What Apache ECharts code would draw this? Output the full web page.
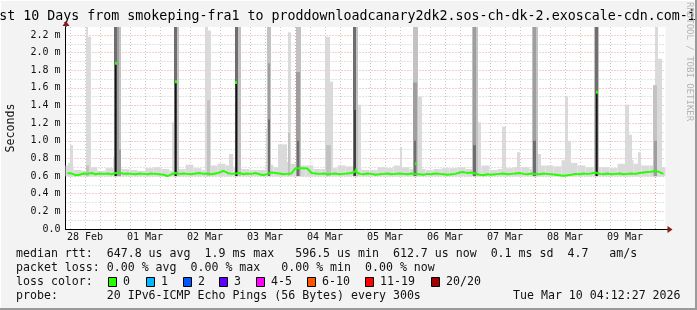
<!DOCTYPE html>
<html><head><meta charset="utf-8">
<script src="https://cdn.jsdelivr.net/npm/echarts@6/dist/echarts.min.js"></script>
<style>html,body{margin:0;padding:0;background:#f3f3f3;}#c{width:697px;height:310px;}</style>
</head><body><div id="c"></div>
<script>
// ---------------- data ----------------
const titleText = 'Last 10 Days from smokeping-fra1 to proddownloadcanary2dk2.sos-ch-dk-2.exoscale-cdn.com-ipv6';
const dayLabels = ['28 Feb','01 Mar','02 Mar','03 Mar','04 Mar','05 Mar','06 Mar','07 Mar','08 Mar','09 Mar'];
const dayLabelHours = [12,36,60,84,108,132,156,180,204,228];           // hours since 28 Feb 00:00
const midnightHours = [24,48,72,96,120,144,168,192,216,240];
const sixHourHours = [6,12,18,30,36,42,54,60,66,78,84,90,102,108,114,126,132,138,150,156,162,174,180,186,198,204,210,222,228,234];
const yTicks = [0,0.2,0.4,0.6,0.8,1.0,1.2,1.4,1.6,1.8,2.0,2.2];
const yTickLabels = ['0.0','0.2 m','0.4 m','0.6 m','0.8 m','1.0 m','1.2 m','1.4 m','1.6 m','1.8 m','2.0 m','2.2 m'];
const yMinorTicks = [0.1,0.3,0.5,0.7,0.9,1.1,1.3,1.5,1.7,1.9,2.1];
const startHour = 4.2, endHour = 244.2;   // 28 Feb 04:12 .. 10 Mar 04:12
const yMax = 2.29;                          // ms
const minRtt = 0.5965;                      // ms (legend min)

// median rtt (ms), one value per 1.6 h
const medianStepHours = 1.6;
const medianRtt = [
 0.635,0.63,0.61,0.615,0.63,0.625,0.635,0.62,0.63,0.625,
 0.63,0.62,0.635,0.64,0.625,0.63,0.625,0.62,0.63,0.625,
 0.62,0.63,0.625,0.62,0.615,0.60,0.62,0.635,0.625,0.63,
 0.625,0.62,0.63,0.635,0.625,0.63,0.62,0.63,0.64,0.66,
 0.635,0.625,0.63,0.635,0.62,0.63,0.625,0.635,0.62,0.61,
 0.625,0.64,0.635,0.63,0.62,0.625,0.63,0.69,0.69,0.69,
 0.685,0.635,0.63,0.625,0.63,0.62,0.625,0.63,0.62,0.625,
 0.63,0.635,0.655,0.625,0.62,0.63,0.625,0.615,0.62,0.625,
 0.63,0.62,0.625,0.63,0.625,0.62,0.63,0.625,0.62,0.615,
 0.625,0.62,0.63,0.625,0.62,0.615,0.62,0.625,0.64,0.645,
 0.635,0.64,0.63,0.615,0.61,0.62,0.615,0.62,0.625,0.63,
 0.62,0.625,0.63,0.635,0.625,0.62,0.63,0.625,0.62,0.63,
 0.625,0.62,0.615,0.61,0.605,0.61,0.615,0.625,0.62,0.63,
 0.625,0.63,0.64,0.625,0.62,0.63,0.62,0.625,0.63,0.62,
 0.625,0.63,0.625,0.635,0.64,0.645,0.65,0.66,0.645,0.625
];
// short median peaks: [hour, ms]
const medianPeaks = [[24.4,1.88],[48.4,1.67],[72.4,1.66],[120.4,0.67],[144.4,0.74],[216.8,1.55]];

// light smoke just above the median, one value per 3.2 h (upper edge, ms)
const fuzzStepHours = 3.2;
const fuzzTop = [
 0.72,0.67,0.66,0.70,0.66,0.69,0.70,0.68,0.67,0.66,
 0.69,0.70,0.68,0.66,0.68,0.73,0.69,0.67,0.72,0.74,
 0.72,0.69,0.68,0.67,0.67,0.73,0.70,0.76,0.74,0.72,
 0.72,0.68,0.68,0.69,0.72,0.71,0.69,0.67,0.67,0.70,
 0.69,0.72,0.70,0.68,0.68,0.67,0.68,0.69,0.69,0.70,
 0.68,0.70,0.72,0.67,0.68,0.69,0.70,0.70,0.68,0.72,
 0.72,0.71,0.78,0.75,0.72,0.70,0.70,0.70,0.69,0.74,
 0.78,0.74,0.72,0.72,0.70
];

// smoke bursts: [fromHour, toHour, lowMs, highMs, density 1..6]
const smoke = [
 [5.2,6.4,0.6,0.75,1],[6.0,7.2,0.6,0.95,1],
 [12.4,13.2,0.6,2.4,1],[13.2,14.4,0.6,2.18,1],[12.4,13.6,0.6,0.72,2],
 [23.2,24.0,0.6,0.82,1],
 [23.6,26.4,0.6,2.4,2],[23.6,25.6,0.6,2.4,3],[23.6,24.8,0.6,2.4,4],[24.0,24.6,0.6,1.88,6],[24.8,26.4,0.6,0.9,3],
 [46.8,47.6,0.6,1.21,1],[47.6,49.6,0.6,2.4,2],[47.6,48.8,0.6,2.4,4],[48.0,48.6,0.6,1.67,6],
 [60.0,61.2,0.6,2.4,1],[61.2,62.4,0.6,2.25,1],[60.8,62.0,0.6,1.46,2],
 [69.6,71.2,0.6,0.85,1],[72.0,74.4,0.6,2.4,2],[72.0,73.2,0.6,2.4,4],[72.2,72.8,0.6,1.66,6],
 [84.4,85.2,0.6,1.14,1],[84.8,86.4,0.6,2.4,2],[85.2,86.0,0.6,1.88,3],[85.2,86.0,0.6,1.24,4],
 [89.2,92.8,0.6,0.96,1],
 [93.2,94.4,0.6,2.23,1],[93.2,94.0,0.6,1.09,2],
 [96.4,98.4,0.6,2.4,2],[96.4,98.0,0.6,1.78,3],[96.8,97.6,0.6,1.0,4],
 [108.0,110.0,0.6,2.18,1],[110.0,111.2,0.6,1.67,1],[108.4,110.4,0.6,0.95,2],
 [119.2,121.2,0.6,2.4,2],[119.2,120.4,0.6,2.4,4],[119.6,120.4,0.6,1.35,5],[120.8,122.4,0.6,1.41,1],
 [138.0,138.8,0.6,0.93,1],
 [143.2,145.2,0.6,2.4,2],[143.2,144.8,0.6,1.66,3],[143.6,144.4,0.6,1.0,4],[145.2,146.8,0.6,1.5,1],
 [166.8,169.2,0.6,2.4,2],[167.2,168.4,0.6,2.4,3],[167.2,168.4,0.6,0.95,4],[169.2,170.4,0.6,1.21,1],
 [178.8,180.4,0.6,1.16,1],
 [184.8,186.0,0.6,0.87,1],
 [190.8,193.2,0.6,2.4,2],[191.2,192.4,0.6,2.4,3],[191.2,192.4,0.6,1.0,4],[193.2,194.4,0.6,0.85,1],
 [204.0,205.2,0.6,1.5,1],[205.2,206.4,0.6,1.0,1],
 [215.6,217.6,0.6,2.4,2],[216.0,217.2,0.6,2.4,4],[216.4,217.0,0.6,1.55,6],
 [228.0,229.6,0.6,1.41,1],[229.6,230.8,0.6,1.07,1],
 [233.2,234.4,0.6,0.87,1],
 [240.0,241.2,0.6,2.4,1],[239.2,240.8,0.6,1.63,2],[239.6,240.8,0.6,1.0,3],[241.2,242.8,0.6,1.93,1]
];

const statLines = [
 'median rtt:  647.8 us avg  1.9 ms max   596.5 us min  612.7 us now  0.1 ms sd  4.7   am/s',
 'packet loss: 0.00 % avg  0.00 % max   0.00 % min  0.00 % now',
 'loss color:',
 'probe:       20 IPv6-ICMP Echo Pings (56 Bytes) every 300s'
];
const stampText = 'Tue Mar 10 04:12:27 2026';
const lossLabels = ['0','1','2','3','4-5','6-10','11-19','20/20'];
const lossColors = ['#26ff00','#00b8ff','#0059ff','#5e00ff','#ff00ff','#ff5500','#ff0000','#a10000'];
const sideText = 'RRDTOOL / TOBI OETIKER';

// ---------------- layout / style ----------------
const G = {left:65.5, top:27, width:600, height:202};
const smokeColors = [null,'#dadada','#c2c2c2','#9e9e9e','#6e6e6e','#404040','#141414'];
const MONO = '"DejaVu Sans Mono", monospace';

const medianData = medianRtt.map((v,i)=>[startHour + medianStepHours*(i+0.5), v]);
const fuzzData = fuzzTop.map((v,i)=>[startHour + fuzzStepHours*i, startHour + fuzzStepHours*(i+1), minRtt, v, 1]);
const smokeSorted = smoke.slice().sort((a,b)=>a[4]-b[4]);

function rectItem(params, api){
  const x1 = api.value(0), x2 = api.value(1), lo = api.value(2), hi = api.value(3), lv = api.value(4);
  const p1 = api.coord([x1, lo]), p2 = api.coord([x2, hi]);
  const cs = params.coordSys;
  const shape = echarts.graphic.clipRectByRect(
    {x:p1[0], y:p2[1], width:p2[0]-p1[0], height:p1[1]-p2[1]},
    {x:cs.x, y:cs.y, width:cs.width, height:cs.height});
  if(!shape) return null;
  return {type:'rect', shape:shape, style:{fill:smokeColors[lv]}};
}
function peakItem(params, api){
  const p = api.coord([api.value(0), api.value(1)]);
  return {type:'rect', shape:{x:p[0]-1, y:p[1]-1.5, width:2, height:3}, style:{fill:lossColors[0]}};
}

const chart = echarts.init(document.getElementById('c'), null, {renderer:'canvas'});

const graphics = [];
// borders
graphics.push({type:'rect', shape:{x:0,y:0,width:697,height:310}, style:{fill:'none', stroke:'#ffffff', lineWidth:2}, z:-1});
graphics.push({type:'line', shape:{x1:696,y1:0,x2:696,y2:310}, style:{stroke:'#9a9a9a', lineWidth:2}});
graphics.push({type:'line', shape:{x1:0,y1:309,x2:697,y2:309}, style:{stroke:'#9a9a9a', lineWidth:2}});
// title
graphics.push({type:'text', x:351.5, y:17, style:{text:titleText, font:'13.3px '+MONO, fill:'#000', align:'center', verticalAlign:'middle'}});
// side text
graphics.push({type:'text', x:689, y:2, rotation:-Math.PI/2, style:{text:sideText, font:'9px '+MONO, fill:'#b4b4b4', align:'left', verticalAlign:'middle'}});
// axis extension + arrows
const ax0 = G.left, ay0 = G.top + G.height;
graphics.push({type:'line', shape:{x1:G.left+G.width, y1:ay0+0.5, x2:G.left+G.width+3, y2:ay0+0.5}, style:{stroke:'#000', lineWidth:1}});
graphics.push({type:'polygon', shape:{points:[[G.left+G.width+2,ay0-3],[G.left+G.width+7,ay0+0.5],[G.left+G.width+2,ay0+4]]}, style:{fill:'#8b1a1a'}});
graphics.push({type:'line', shape:{x1:ax0+0.5, y1:G.top, x2:ax0+0.5, y2:G.top-3}, style:{stroke:'#000', lineWidth:1}});
graphics.push({type:'polygon', shape:{points:[[ax0-3,G.top-1],[ax0+0.5,G.top-6],[ax0+4,G.top-1]]}, style:{fill:'#8b1a1a'}});
// stats text
const lineY = [254,268,282,296];
statLines.forEach((t,i)=>graphics.push({type:'text', x:16, y:lineY[i], style:{text:t, font:'11.6px '+MONO, fill:'#111', verticalAlign:'middle'}}));
graphics.push({type:'text', x:513, y:lineY[3], style:{text:stampText, font:'11.6px '+MONO, fill:'#111', verticalAlign:'middle'}});
const boxX = [108,146,183,219,256,307,365,431];
lossLabels.forEach((l,i)=>{
  graphics.push({type:'rect', shape:{x:boxX[i]+0.5, y:lineY[2]-4.5, width:8, height:9}, style:{fill:lossColors[i], stroke:'#000', lineWidth:1}});
  graphics.push({type:'text', x:boxX[i]+15, y:lineY[2], style:{text:l, font:'11.6px '+MONO, fill:'#111', verticalAlign:'middle'}});
});

const gridLineRed = {show:true, lineStyle:{color:'#e8a0a0', type:[1,2], width:1}};
const gridLineGray = {show:true, lineStyle:{color:'#c8c8c8', type:[1,2], width:1}};

chart.setOption({
  animation:false,
  backgroundColor:'#f3f3f3',
  grid:{left:G.left, top:G.top, width:G.width, height:G.height, backgroundColor:'#ffffff', show:true, borderWidth:0,
        containLabel:false, outerBoundsMode:'none'},
  xAxis:[
    {type:'value', min:startHour, max:endHour, position:'bottom',
     axisLine:{show:false}, axisTick:{show:false, customValues:sixHourHours}, axisLabel:{show:false}, splitLine:gridLineGray},
    {type:'value', min:startHour, max:endHour, position:'bottom',
     axisLine:{show:true, onZero:false, lineStyle:{color:'#000', width:1}},
     axisTick:{show:false, customValues:midnightHours},
     axisLabel:{show:true, customValues:dayLabelHours, margin:3, color:'#111', fontFamily:MONO, fontSize:10,
       formatter:v=>{const k=dayLabelHours.indexOf(Math.round(v)); return k>=0?dayLabels[k]:'';}},
     splitLine:gridLineRed}
  ],
  yAxis:[
    {type:'value', min:0, max:yMax, position:'left', axisLine:{show:false}, axisTick:{show:false, customValues:yMinorTicks}, axisLabel:{show:false}, splitLine:gridLineGray},
    {type:'value', min:0, max:yMax, position:'left', offset:0,
     name:'Seconds', nameLocation:'middle', nameGap:49, nameRotate:90,
     nameTextStyle:{fontFamily:MONO, fontSize:11.6, color:'#111'},
     axisLine:{show:true, onZero:false, lineStyle:{color:'#000', width:1}},
     axisTick:{show:false, customValues:yTicks},
     axisLabel:{show:true, customValues:yTicks, margin:5, color:'#111', fontFamily:MONO, fontSize:10,
       formatter:v=>{let k=-1; yTicks.forEach((t,j)=>{if(Math.abs(t-v)<1e-6)k=j;}); return k>=0?yTickLabels[k]:'';}},
     splitLine:gridLineRed}
  ],
  series:[
    {type:'custom', xAxisIndex:1, yAxisIndex:1, renderItem:rectItem, data:fuzzData, z:2, silent:true},
    {type:'custom', xAxisIndex:1, yAxisIndex:1, renderItem:rectItem, data:smokeSorted, z:3, silent:true},
    {type:'line', xAxisIndex:1, yAxisIndex:1, data:medianData, showSymbol:false, z:5,
     lineStyle:{color:lossColors[0], width:2}},
    {type:'custom', xAxisIndex:1, yAxisIndex:1, renderItem:peakItem, data:medianPeaks, z:6, silent:true}
  ],
  graphic:graphics
});
</script></body></html>
